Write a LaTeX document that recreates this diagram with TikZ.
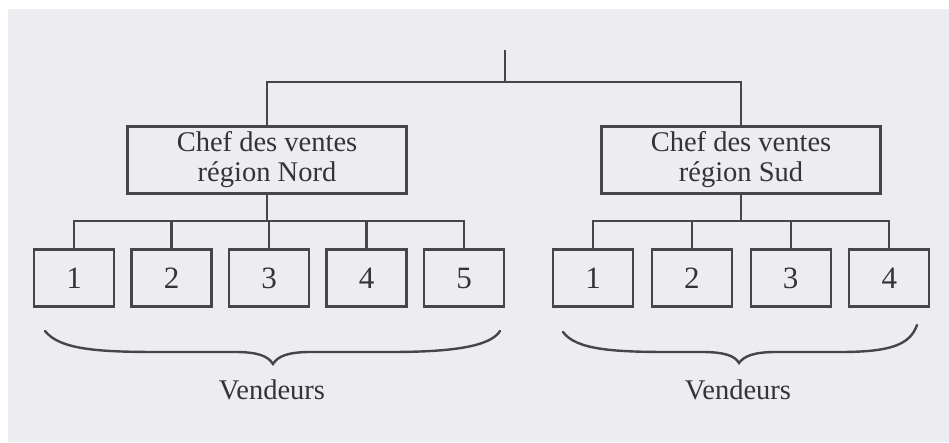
\documentclass[tikz,border=0pt]{standalone}
\usepackage{fontspec}
\setmainfont{Liberation Serif}
\usetikzlibrary{positioning}
\definecolor{paper}{HTML}{EDEDF1}
\definecolor{trait}{HTML}{45454B}
\definecolor{encre}{HTML}{343438}
\tikzstyle{chef} = [rectangle,
                    minimum width=279pt,
                    minimum height=67pt,
                    align = center,
                    draw=trait,
                    text=encre]
\tikzstyle{vendeur} = [rectangle,
                      minimum width=80pt,
                      minimum height=57pt,
                      draw=trait,
                      text=encre,
                      font=\fontsize{31}{31}\selectfont]
\tikzstyle{orga} = [x=1pt,
                   y=-1pt,
                   node distance=15.4pt,
                   line width=2.1pt,
                   font=\fontsize{28.5}{30}\selectfont]

\begin{document}
\begin{tikzpicture}[orga]
    \useasboundingbox (0,0) rectangle (949,442);
    \fill[white] (0,0) rectangle (949,442);
    \fill[paper] (8,9) rectangle (949,442);
    \coordinate (top) at (505,50);
    \coordinate (hub) at (505,82);
    \node (nord) at (267,160) [chef] {Chef des ventes\\région Nord};
    \node (sud) at (741,160) [chef] {Chef des ventes\\région Sud};
    \node (n1) at (74,278) [vendeur] {1};
    \node (n2) [right =of n1] [vendeur] {2};
    \node (n3) [right =of n2] [vendeur] {3};
    \node (n4) [right =of n3] [vendeur] {4};
    \node (n5) [right =of n4] [vendeur] {5};
    \node (s1) at (593,278) [vendeur] {1};
    \node (s2) [right =16.7pt of s1] [vendeur] {2};
    \node (s3) [right =16.7pt of s2] [vendeur] {3};
    \node (s4) [right =16.7pt of s3] [vendeur] {4};
    \coordinate (nbus) at (267,221);
    \coordinate (sbus) at (741,221);
    \draw[trait]
      (top) -- (hub)
      (hub) -| (nord)
      (hub) -| (sud)
      (nord) -- (nbus)
      (sud) -- (sbus);
    \foreach \i in {1,...,5}
      \draw[trait] (nbus) -| (n\i);
    \foreach \i in {1,...,4}
      \draw[trait] (sbus) -| (s\i);
    % accolades
    \draw[trait, line width=2.4pt, line cap=round]
      (45,331) .. controls (60,350) and (100,352) .. (160,352) -- (235,352)
        .. controls (258,352) and (268,356) .. (273,364)
        .. controls (278,356) and (288,352) .. (311,352) -- (390,352)
        .. controls (450,352) and (490,347) .. (500,331);
    \draw[trait, line width=2.4pt, line cap=round]
      (563,332) .. controls (576,350) and (615,352) .. (670,352) -- (702,352)
        .. controls (725,352) and (735,356) .. (739,363)
        .. controls (744,356) and (754,352) .. (776,352) -- (840,352)
        .. controls (890,352) and (910,345) .. (917,325);
    \node (vn) at (272,390) [text=encre] {Vendeurs};
    \node (vs) at (738,390) [text=encre] {Vendeurs};
  \end{tikzpicture}
\end{document}
